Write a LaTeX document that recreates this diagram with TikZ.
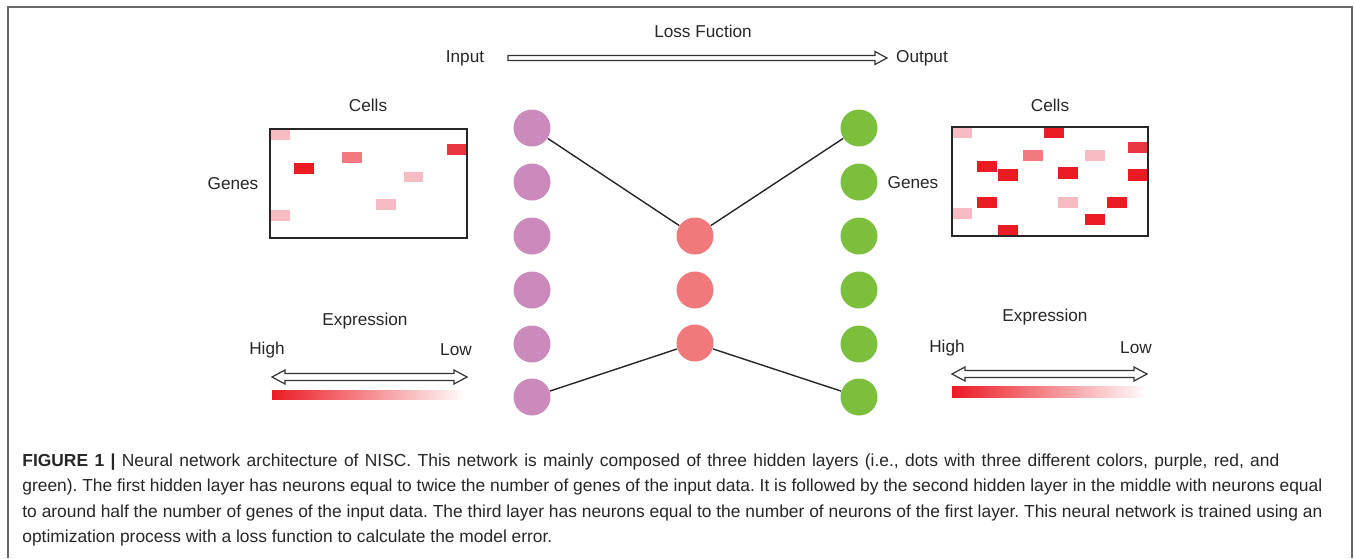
\documentclass[tikz,border=0pt]{standalone}
\usepackage{fontspec}
\setmainfont{Liberation Sans}
\usetikzlibrary{calc}
\definecolor{purp}{RGB}{204,137,188}
\definecolor{salm}{RGB}{240,121,123}
\definecolor{grn}{RGB}{123,191,61}
\definecolor{cdark}{RGB}{234,27,35}
\definecolor{cmid}{RGB}{232,55,66}
\definecolor{csal}{RGB}{240,122,128}
\definecolor{cpale}{RGB}{247,188,195}
\definecolor{framegray}{RGB}{105,105,105}
\newcommand\myharrow[2]{\draw[hollow] ($(#1)+(0,-2.5)$) -- ($(#2)+(-12,-2.5)$) -- ($(#2)+(-12,-6.5)$) -- (#2) -- ($(#2)+(-12,6.5)$) -- ($(#2)+(-12,2.5)$) -- ($(#1)+(0,2.5)$) -- cycle;}
\newcommand\mydarrow[2]{\draw[hollow] (#1) -- ($(#1)+(13,-7)$) -- ($(#1)+(13,-3.5)$) -- ($(#2)+(-13,-3.5)$) -- ($(#2)+(-13,-7)$) -- (#2) -- ($(#2)+(-13,7)$) -- ($(#2)+(-13,3.5)$) -- ($(#1)+(13,3.5)$) -- ($(#1)+(13,7)$) -- cycle;}
\frenchspacing
\begin{document}
\begin{tikzpicture}[x=0.5pt,y=-0.5pt,
 lbl/.style={font=\fontsize{8.6}{10}\selectfont, text=black!85, inner sep=0},
 neuron/.style={circle, minimum size=18.5pt, inner sep=0},
 link/.style={line width=0.7pt, draw=black!85},
 hollow/.style={draw=black!80, line width=0.6pt, fill=white, line join=miter},
 databox/.style={draw=black!85, line width=0.7pt},
 captext/.style={anchor=base west, inner sep=0, font=\fontsize{8.7}{10}\selectfont\frenchspacing, text=black!85}]
\useasboundingbox (0,0) rectangle (1354,558);
\draw[framegray, line width=1pt] (8,558) -- (8,7) -- (1352,7) -- (1352,558);

% top: loss function arrow
\node[lbl] (loss) at (703,31) {Loss Fuction};
\node[lbl] (inp) at (465,58) {Input};
\node[lbl] (outp) at (922,58) {Output};
\coordinate (ain) at (508,58);
\coordinate (aout) at (887,58);
\myharrow{ain}{aout}

% neurons
\foreach \i/\y in {1/128,2/182,3/236,4/290,5/344,6/397}{
  \node[neuron, fill=purp] (p\i) at (532,\y) {};
  \node[neuron, fill=grn] (g\i) at (859,\y) {};
}
\foreach \i/\y in {1/236,2/290,3/343}{
  \node[neuron, fill=salm] (r\i) at (695,\y) {};
}
\draw[link] (p1) -- (r1);
\draw[link] (r1) -- (g1);
\draw[link] (p6) -- (r3);
\draw[link] (r3) -- (g6);

% left data matrix
\node[lbl] (cellsL) at (368,105) {Cells};
\node[lbl] (genesL) at (233,184) {Genes};
\fill[cpale] (270,129) rectangle (290,140);
\fill[cdark] (294,163) rectangle (314,174);
\fill[csal] (342,152) rectangle (362,163);
\fill[cmid] (447,144) rectangle (467,155);
\fill[cpale] (404,172) rectangle (423,182);
\fill[cpale] (376,199) rectangle (396,210);
\fill[cpale] (270,210) rectangle (290,221);
\draw[databox] (270,129) rectangle (467,238);

% right data matrix
\node[lbl] (cellsR) at (1050,105) {Cells};
\node[lbl] (genesR) at (913,183) {Genes};
\fill[cpale] (952,127) rectangle (972,138);
\fill[cdark] (1044,127) rectangle (1064,138);
\fill[cmid] (1128,142) rectangle (1148,153);
\fill[csal] (1023,150) rectangle (1043,161);
\fill[cpale] (1085,150) rectangle (1105,161);
\fill[cdark] (977,161) rectangle (997,172);
\fill[cdark] (998,169) rectangle (1018,181);
\fill[cdark] (1058,167) rectangle (1078,179);
\fill[cdark] (1128,169) rectangle (1148,181);
\fill[cdark] (977,197) rectangle (997,208);
\fill[cpale] (1058,197) rectangle (1078,208);
\fill[cdark] (1107,197) rectangle (1127,208);
\fill[cpale] (952,208) rectangle (972,219);
\fill[cdark] (1085,214) rectangle (1105,225);
\fill[cdark] (998,225) rectangle (1018,236);
\draw[databox] (952,127) rectangle (1148,236);

% left expression legend
\node[lbl] (exprL) at (365,321) {Expression};
\node[lbl] (highL) at (267,350) {High};
\node[lbl] (lowL) at (456,350) {Low};
\coordinate (eL1) at (272,377);
\coordinate (eL2) at (467,377);
\mydarrow{eL1}{eL2}
\shade[left color=cdark, right color=cdark!2] (272,390) rectangle (463,399);

% right expression legend
\node[lbl] (exprR) at (1045,317) {Expression};
\node[lbl] (highR) at (947,348) {High};
\node[lbl] (lowR) at (1136,348) {Low};
\coordinate (eR1) at (952,374);
\coordinate (eR2) at (1147,374);
\mydarrow{eR1}{eR2}
\shade[left color=cdark, right color=cdark!2] (952,386) rectangle (1144,397);

% caption
\node[captext] (c1) at (22,466) {\makebox[628.5pt][s]{\textbf{FIGURE 1 |} Neural network architecture of NISC. This network is mainly composed of three hidden layers (i.e., dots with three different colors, purple, red, and}};
\node[captext] (c2) at (22,491.5) {\makebox[650pt][s]{green). The first hidden layer has neurons equal to twice the number of genes of the input data. It is followed by the second hidden layer in the middle with neurons equal}};
\node[captext] (c3) at (22,517) {\makebox[650pt][s]{to around half the number of genes of the input data. The third layer has neurons equal to the number of neurons of the first layer. This neural network is trained using an}};
\node[captext] (c4) at (22,542.5) {optimization process with a loss function to calculate the model error.};
\end{tikzpicture}
\end{document}
